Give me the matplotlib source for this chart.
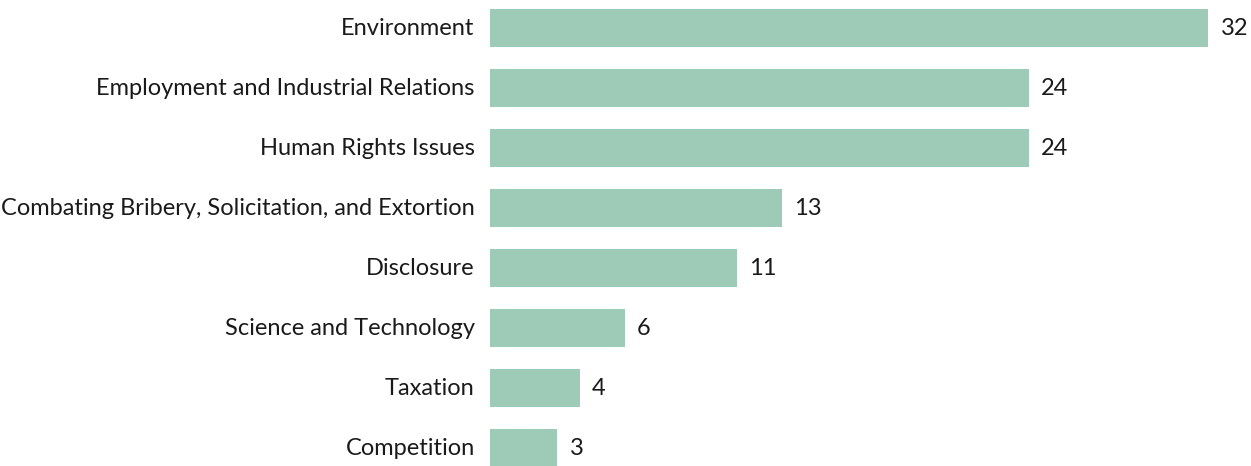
import matplotlib.pyplot as plt

categories = [
    'Environment',
    'Employment and Industrial Relations',
    'Human Rights Issues',
    'Combating Bribery, Solicitation, and Extortion',
    'Disclosure',
    'Science and Technology',
    'Taxation',
    'Competition',
]
counts = [32, 24, 24, 13, 11, 6, 4, 3]

plt.rcParams['font.family'] = ['Lato', 'DejaVu Sans']

fig = plt.figure(figsize=(12.51, 4.66), dpi=100)
ax = fig.add_axes([490 / 1251, 0, 718 / 1251, 1])

ypos = list(range(len(categories)))
ax.barh(ypos, counts, height=38 / 60, color='#9dcbb8', edgecolor='none')

# value labels just past the end of each bar
for y, v in zip(ypos, counts):
    ax.annotate(str(v), (v, y), xytext=(9, 0), textcoords='offset points',
                va='center', ha='left', fontsize=17, color='#1a1a1a')

# category labels to the left of the bars
for y, name in zip(ypos, categories):
    ax.annotate(name, (0, y), xytext=(-11, 0), textcoords='offset points',
                va='center', ha='right', fontsize=17, color='#1a1a1a')

ax.set_xlim(0, 32)
ax.set_ylim(7 + 18 / 60, -28 / 60)
ax.axis('off')

fig.savefig('out.png', dpi=100)
